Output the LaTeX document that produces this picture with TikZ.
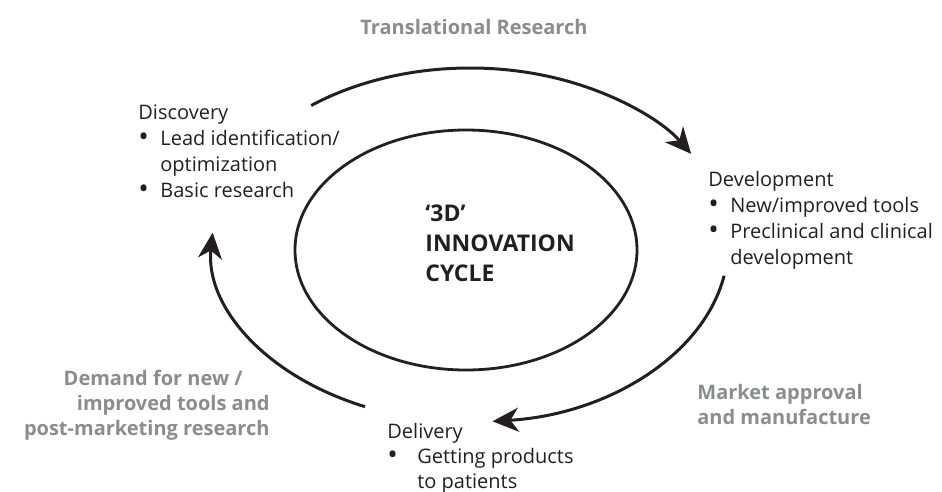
\documentclass[tikz,border=0pt]{standalone}
\usepackage{fontspec}
\setmainfont{Open Sans}
\usetikzlibrary{arrows.meta,shapes.geometric}
\definecolor{lbl}{RGB}{138,140,142}
\definecolor{ink}{RGB}{35,31,32}
\newcommand\bulitem[1]{\makebox[#1][l]{\raisebox{-0.5pt}[0pt][0pt]{\fontsize{14}{0}\selectfont •}}}
\begin{document}
\begin{tikzpicture}[x=0.5pt,y=0.5pt,
  txt/.style={anchor=north west, inner sep=0pt, align=left, font=\fontsize{10}{13}\selectfont, text=ink},
  bold3d/.style={anchor=north west, inner sep=0pt, align=left, font=\bfseries\fontsize{11.5}{15}\selectfont, text=ink},
  gry/.style={inner sep=0pt, font=\bfseries\fontsize{10}{12.5}\selectfont, text=lbl},
  cyc/.style={draw=ink, line width=1.5pt, -{Stealth[length=13pt,width=12pt,inset=4pt]}}
]
\useasboundingbox (0,0) rectangle (942,-492);
% inner ellipse
\node[ellipse, draw=ink, line width=1.4pt, minimum width=171pt, minimum height=120pt, inner sep=0pt] (core) at (466,-250) {};
\node[bold3d] (title) at (425,-204) {‘3D’\\INNOVATION\\CYCLE};
% stage texts
\node[txt] (disc) at (138,-104) {Discovery\\ \bulitem{11pt}Lead identification/\\ \hspace*{11pt}optimization\\ \bulitem{11pt}Basic research};
\node[txt] (dev) at (708,-171) {Development\\ \bulitem{11pt}New/improved tools\\ \bulitem{11pt}Preclinical and clinical\\ \hspace*{11pt}development};
\node[txt, font=\fontsize{10}{12.5}\selectfont] (deliv) at (387,-423) {Delivery\\ \bulitem{15pt}Getting products\\ \hspace*{15pt}to patients};
% grey labels
\node[gry] (tr) at (474,-27) {Translational Research};
\node[gry, align=right, anchor=east] (dem) at (270,-405) {Demand for new /\hspace*{13.5pt}\\improved tools and\hspace*{13.5pt}\\post-marketing research};
\node[gry, align=left, anchor=west] (mkt) at (697,-404) {Market approval\\and manufacture};
% outer cycle arrows
\coordinate (oc) at (470,-245);
\coordinate (a1) at ([shift={(128:129pt and 88.5pt)}]oc);
\coordinate (a2) at ([shift={(-10:129pt and 88.5pt)}]oc);
\coordinate (a3) at ([shift={(-114:129pt and 88.5pt)}]oc);
\draw[cyc] (a1) arc[start angle=128, end angle=31, x radius=129pt, y radius=88.5pt];
\draw[cyc] (a2) arc[start angle=-10, end angle=-85, x radius=129pt, y radius=88.5pt];
\draw[cyc] (a3) arc[start angle=-114, end angle=-184, x radius=129pt, y radius=88.5pt];
\end{tikzpicture}
\end{document}
